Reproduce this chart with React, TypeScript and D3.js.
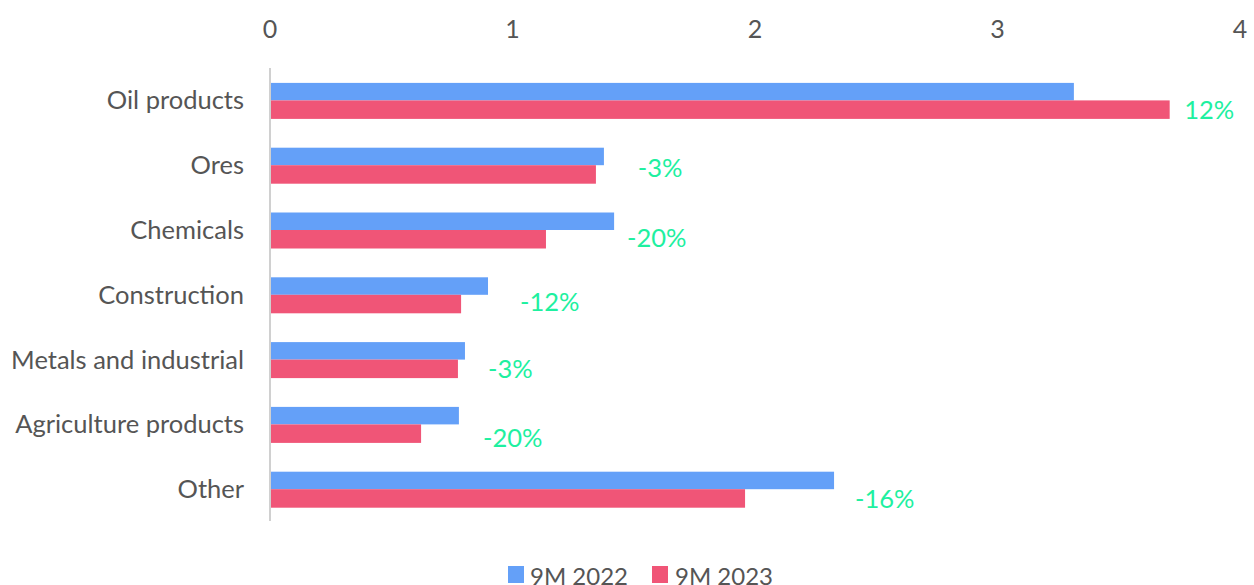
import React from "react";
import * as d3 from "d3";

const categories = ["Oil products", "Ores", "Chemicals", "Construction", "Metals and industrial", "Agriculture products", "Other"];
const series2022 = [3.315, 1.377, 1.419, 0.899, 0.804, 0.779, 2.326];
const series2023 = [3.71, 1.344, 1.138, 0.788, 0.775, 0.623, 1.959];
const changeLabels = ["12%", "-3%", "-20%", "-12%", "-3%", "-20%", "-16%"];
const labelAt = [3.77, 1.517, 1.472, 1.031, 0.899, 0.878, 2.412];
const labelDy = [9, 2, 7, 6, 8, 13, 9];
const ticks = [0, 1, 2, 3, 4];
const seriesNames = ["9M 2022", "9M 2023"];

const W = 1254, H = 585;
const BLUE = "#64a0f8";
const RED = "#f05577";
const GREEN = "#1ef0a0";
const TEXT = "#555555";
const FONT = "Lato, 'Open Sans', sans-serif";

export default function App() {
  const x = d3.scaleLinear().domain([0, 4]).range([270, 1240]);
  const y = d3.scaleBand<string>().domain(categories).range([68, 521.6]);
  const barH = 17.5;
  return (
    <svg width={W} height={H} style={{ position: "absolute", left: 0, top: 0 }} fontFamily={FONT}>
      {ticks.map((t) => (
        <text key={t} x={x(t)} y={28} textAnchor="middle" dominantBaseline="central" fontSize={25} fill={TEXT}>
          {t}
        </text>
      ))}
      <line x1={x(0)} x2={x(0)} y1={68} y2={521} stroke="#d0d0d0" strokeWidth={2} />
      {categories.map((c, i) => {
        const cy = (y(c) as number) + y.bandwidth() / 2;
        return (
          <g key={c}>
            <rect x={x(0) + 1} y={cy - barH} width={x(series2022[i]) - x(0) - 1} height={barH} fill={BLUE} />
            <rect x={x(0) + 1} y={cy} width={x(series2023[i]) - x(0) - 1} height={barH + 1} fill={RED} />
            <text x={244} y={cy - 1} textAnchor="end" dominantBaseline="central" fontSize={25.5} fill={TEXT}>
              {c}
            </text>
            <text x={x(labelAt[i])} y={cy + labelDy[i]} dominantBaseline="central" fontSize={25.5} fill={GREEN}>
              {changeLabels[i]}
            </text>
          </g>
        );
      })}
      <g>
        <rect x={508} y={566} width={16} height={17} fill={BLUE} />
        <text x={530} y={575} dominantBaseline="central" fontSize={24} fill={TEXT}>{seriesNames[0]}</text>
        <rect x={652} y={566} width={16} height={17} fill={RED} />
        <text x={675} y={575} dominantBaseline="central" fontSize={24} fill={TEXT}>{seriesNames[1]}</text>
      </g>
    </svg>
  );
}
